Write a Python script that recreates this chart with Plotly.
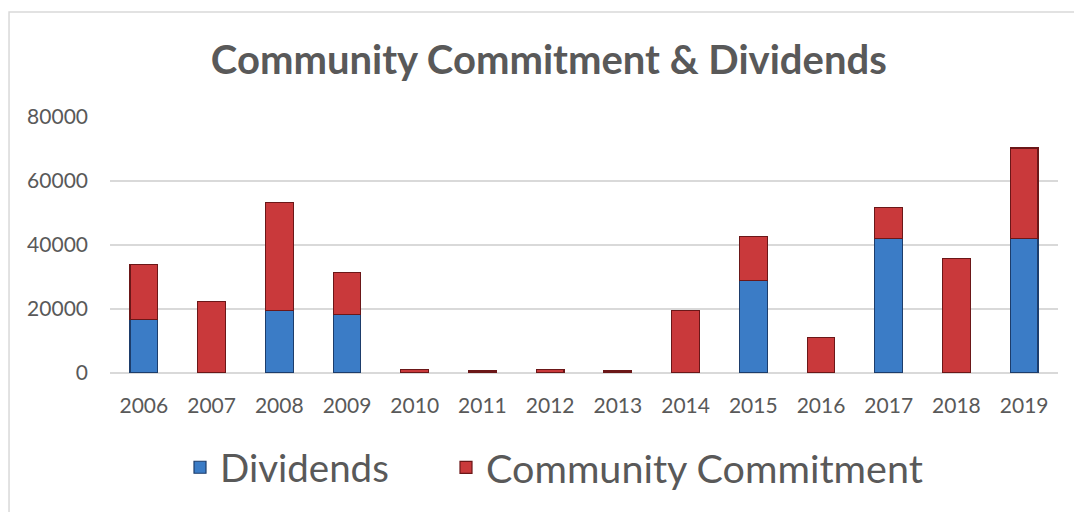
import plotly.graph_objects as go

years = ["2006", "2007", "2008", "2009", "2010", "2011", "2012",
         "2013", "2014", "2015", "2016", "2017", "2018", "2019"]
dividends = [16700, 0, 19600, 18400, 0, 0, 0, 0, 0, 29000, 0, 42000, 0, 42000]
community = [17300, 22300, 33800, 13000, 1000, 600, 1000, 600, 19500, 13600, 11000, 9700, 35900, 28300]

FONT = "Lato"
GRAY = "#595959"

fig = go.Figure()
fig.add_trace(go.Bar(
    x=years, y=dividends, name="Dividends", legend="legend", showlegend=True,
    marker=dict(color="#3b7cc6", line=dict(color="#1d3d6b", width=1.2)),
))
fig.add_trace(go.Bar(
    x=years, y=community, name="Community Commitment", legend="legend2", showlegend=True,
    marker=dict(color="#c9393b", line=dict(color="#6b1718", width=1.2)),
))

legend_common = dict(
    orientation="h",
    xanchor="left",
    y=-0.37, yanchor="middle",
    bgcolor="rgba(0,0,0,0)",
)

fig.update_layout(
    barmode="stack",
    bargap=0.59,
    showlegend=True,
    width=1074, height=512,
    margin=dict(l=110, r=16, t=117, b=139),
    paper_bgcolor="white",
    plot_bgcolor="white",
    font=dict(family=FONT, color=GRAY),
    title=dict(
        text="<b>Community Commitment &amp; Dividends</b>",
        x=0.511, xanchor="center", xref="container",
        y=1 - 60 / 512, yanchor="middle", yref="container",
        font=dict(family=FONT, size=40, color=GRAY),
    ),
    legend=dict(x=(180 - 110) / 948,
                font=dict(family=FONT, size=38.5, color=GRAY), **legend_common),
    legend2=dict(x=(446 - 110) / 948,
                 font=dict(family=FONT, size=39.5, color=GRAY), **legend_common),
    shapes=[dict(
        type="rect", xref="paper", yref="paper",
        x0=-0.1065, x1=1.2, y0=-0.7, y1=1.4106,
        line=dict(color="#d9d9d9", width=1.5), layer="below",
    )],
)
fig.update_xaxes(
    type="category",
    tickfont=dict(family=FONT, size=21, color=GRAY),
    ticklabelstandoff=18,
    showgrid=False, ticks="", showline=False,
)
fig.update_yaxes(
    range=[0, 80000],
    tickvals=[0, 20000, 40000, 60000, 80000],
    ticktext=["0", "20000", "40000", "60000", "80000"],
    tickfont=dict(family=FONT, size=21, color=GRAY),
    ticklabelstandoff=21,
    showgrid=True, gridcolor="#d9d9d9", gridwidth=1.5,
    zeroline=True, zerolinecolor="#d9d9d9", zerolinewidth=1.5,
    ticks="", ticklen=0, showline=False,
)

fig.write_html("out.html")
